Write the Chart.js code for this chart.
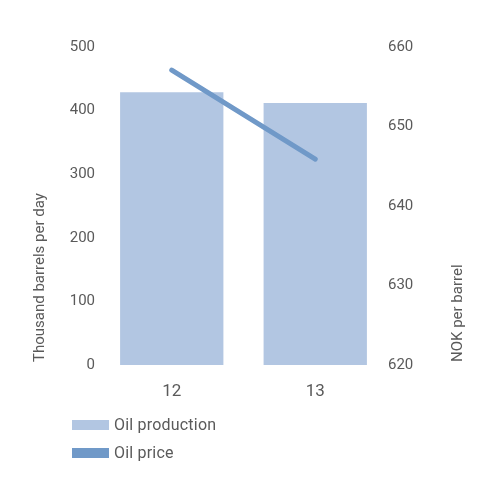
<!DOCTYPE html>
<html>
<head>
<meta charset="utf-8">
<script src="https://cdn.jsdelivr.net/npm/chart.js@4/dist/chart.umd.min.js"></script>
<style>
  html, body { margin: 0; padding: 0; background: #fff; }
  #wrap { position: relative; width: 500px; height: 500px; }
  #c { position: absolute; left: 0; top: 0; }
  .leg { position: absolute; left: 72px; height: 10px; font-family: Roboto, "DejaVu Sans", sans-serif; font-size: 16px; color: #5a5a5a; }
  .leg .box { position: absolute; left: 0; top: 0; width: 37px; height: 10px; }
  .leg .txt { position: absolute; left: 42px; top: -5px; line-height: 20px; white-space: nowrap; letter-spacing: 0.2px; }
</style>
</head>
<body>
<div id="wrap">
  <canvas id="c" width="500" height="500"></canvas>
  <div id="legend"></div>
</div>
<script>
const categories = ["12", "13"];
const oilProduction = [429, 412];
const oilPrice = [657.1, 645.9];
const leftTicks = [0, 100, 200, 300, 400, 500];
const rightTicks = [620, 630, 640, 650, 660];
const leftTitle = "Thousand barrels per day";
const rightTitle = "NOK per barrel";
const seriesNames = ["Oil production", "Oil price"];

const FONT = 'Roboto, "DejaVu Sans", sans-serif';
const TXT = '#5a5a5a';
const BAR = '#b2c6e2';
const LINE = '#7099c8';

const titlesPlugin = {
  id: 'axisTitles',
  afterDraw(chart) {
    const ctx = chart.ctx;
    ctx.save();
    ctx.fillStyle = TXT;
    ctx.font = '15px ' + FONT;
    ctx.textBaseline = 'middle';
    const bottom = chart.chartArea.bottom - 3;
    ctx.save();
    ctx.translate(40, bottom);
    ctx.rotate(-Math.PI / 2);
    ctx.textAlign = 'left';
    ctx.fillText(leftTitle, 0, 0);
    ctx.restore();
    ctx.save();
    ctx.translate(458, bottom);
    ctx.rotate(-Math.PI / 2);
    ctx.textAlign = 'left';
    ctx.fillText(rightTitle, 0, 0);
    ctx.restore();
    ctx.restore();
  }
};

const chart = new Chart(document.getElementById('c'), {
  data: {
    labels: categories,
    datasets: [
      {
        type: 'line',
        label: seriesNames[1],
        data: oilPrice,
        yAxisID: 'y1',
        borderColor: LINE,
        backgroundColor: LINE,
        borderWidth: 5,
        borderCapStyle: 'round',
        pointRadius: 0,
        tension: 0,
        order: 0
      },
      {
        type: 'bar',
        label: seriesNames[0],
        data: oilProduction,
        yAxisID: 'y',
        backgroundColor: BAR,
        borderWidth: 0,
        categoryPercentage: 1,
        barPercentage: 0.72,
        order: 1
      }
    ]
  },
  options: {
    responsive: false,
    animation: false,
    devicePixelRatio: 1,
    layout: { padding: { top: 47, bottom: 95, left: 0, right: 0 } },
    plugins: { legend: { display: false }, tooltip: { enabled: false } },
    scales: {
      x: {
        grid: { display: false, drawTicks: false },
        border: { display: false },
        ticks: { color: TXT, font: { family: FONT, size: 17 }, padding: 17 },
        afterFit(s) { s.height = 40; }
      },
      y: {
        position: 'left',
        min: 0, max: 500,
        afterBuildTicks(s) { s.ticks = leftTicks.map(v => ({ value: v })); },
        grid: { display: false, drawTicks: false },
        border: { display: false },
        ticks: { color: TXT, font: { family: FONT, size: 15 }, padding: 5 },
        afterFit(s) { s.width = 100; }
      },
      y1: {
        position: 'right',
        min: 620, max: 660,
        afterBuildTicks(s) { s.ticks = rightTicks.map(v => ({ value: v })); },
        grid: { display: false, drawTicks: false },
        border: { display: false },
        ticks: { color: TXT, font: { family: FONT, size: 15 }, padding: 1 },
        afterFit(s) { s.width = 113; }
      }
    }
  },
  plugins: [titlesPlugin]
});

const legendEl = document.getElementById('legend');
const legendOrder = [1, 0];
legendOrder.forEach((di, i) => {
  const ds = chart.data.datasets[di];
  const item = document.createElement('div');
  item.className = 'leg';
  item.style.top = (420 + i * 27.5) + 'px';
  const box = document.createElement('div');
  box.className = 'box';
  box.style.background = ds.type === 'line' ? ds.borderColor : ds.backgroundColor;
  const txt = document.createElement('div');
  txt.className = 'txt';
  txt.textContent = ds.label;
  item.appendChild(box);
  item.appendChild(txt);
  legendEl.appendChild(item);
});
</script>
</body>
</html>
